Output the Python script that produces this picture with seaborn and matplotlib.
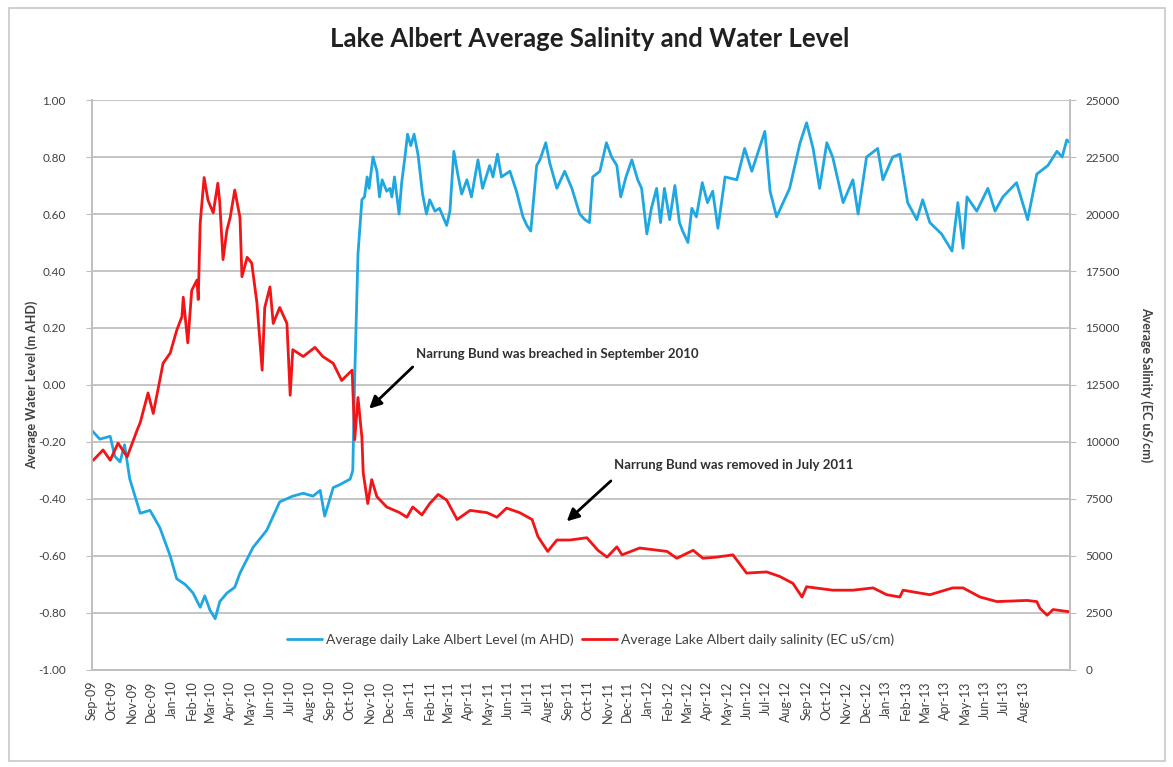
"""
Lake Albert average salinity and water level, Sep-09 .. Aug-13
dual-axis line chart (seaborn lineplot + twinx)
"""

import matplotlib.dates as mdates
import matplotlib.pyplot as plt
import pandas as pd
import seaborn as sns
from matplotlib.patches import Rectangle

START = pd.Timestamp("2009-09-01")

# water level (m AHD); days counted from START
level_days = [
    0, 12, 28, 35, 43, 50, 58, 74, 89, 104, 120, 130, 143, 155, 166, 173,
    181, 189, 196, 207, 219, 227, 247, 268, 288, 308, 324, 339, 350, 357,
    370, 380, 396, 400, 403,
    408, 414, 418, 422, 425, 431, 437, 441, 445, 452, 457, 460, 464, 471,
    475, 480, 484, 489, 494, 500, 507, 513, 518, 526, 533, 544, 549, 555,
    561, 567, 575, 582, 592, 599, 610, 615, 622, 628, 641, 651, 661, 667,
    673, 682, 687, 696, 702, 713, 725, 736, 748, 756, 763, 768, 779, 789,
    797, 805, 811, 819, 828, 837, 843, 851, 858, 866, 872, 878, 886, 894,
    901, 906, 914, 920, 927, 936, 944, 952,
    960, 971, 989, 1001, 1012, 1032, 1040, 1050, 1070, 1086, 1096, 1106,
    1116, 1127, 1136, 1152, 1167, 1175, 1188, 1205, 1213, 1228, 1239, 1251,
    1265, 1274, 1285, 1303, 1319, 1328, 1336, 1342, 1357, 1374, 1385, 1397,
    1418, 1435, 1449, 1466, 1480, 1488, 1495, 1500,
]
level_m = [
    -0.16, -0.19, -0.18, -0.25, -0.27, -0.21, -0.33, -0.45, -0.44, -0.50,
    -0.60, -0.68, -0.70, -0.73, -0.78, -0.74, -0.79, -0.82, -0.76, -0.73,
    -0.71, -0.66, -0.57, -0.51, -0.41, -0.39, -0.38, -0.39, -0.37, -0.46,
    -0.36, -0.35, -0.33, -0.30, 0.03,
    0.46, 0.65, 0.66, 0.73, 0.69, 0.80, 0.75, 0.66, 0.72, 0.68, 0.69, 0.66,
    0.73, 0.60, 0.71, 0.80, 0.88, 0.84, 0.88, 0.81, 0.67, 0.60, 0.65, 0.61,
    0.62, 0.56, 0.61, 0.82, 0.74, 0.67, 0.72, 0.66, 0.79, 0.69, 0.77, 0.73,
    0.81, 0.73, 0.75, 0.68, 0.59, 0.56, 0.54, 0.77, 0.79, 0.85, 0.78, 0.69,
    0.75, 0.69, 0.60, 0.58, 0.57, 0.73, 0.75, 0.85, 0.80, 0.77, 0.66, 0.73,
    0.79, 0.72, 0.69, 0.53, 0.62, 0.69, 0.57, 0.69, 0.58, 0.70, 0.57, 0.54,
    0.50, 0.62, 0.59, 0.71, 0.64, 0.68,
    0.55, 0.73, 0.72, 0.83, 0.75, 0.89, 0.68, 0.59, 0.69, 0.85, 0.92, 0.83,
    0.69, 0.85, 0.80, 0.64, 0.72, 0.60, 0.80, 0.83, 0.72, 0.80, 0.81, 0.64,
    0.58, 0.65, 0.57, 0.53, 0.47, 0.64, 0.48, 0.66, 0.61, 0.69, 0.61, 0.66,
    0.71, 0.58, 0.74, 0.77, 0.82, 0.80, 0.86, 0.85,
]

# salinity (EC uS/cm)
salinity_days = [
    2, 17, 28, 40, 54, 69, 74, 86, 94, 104, 109, 120, 130, 138, 140, 147,
    153, 161, 163, 166, 172, 178, 186, 193, 196, 201, 207, 212, 219, 227,
    230, 238, 245, 253, 261, 265, 273, 278, 288, 299, 304, 308, 324, 342,
    354, 370, 383, 399, 400, 403, 408, 414, 416, 423, 429, 437, 452, 472,
    483, 492, 506, 518, 531, 544, 560, 580, 606, 621, 636, 656, 675, 684,
    699, 713, 733, 759, 776, 790, 805, 813, 840, 882, 897, 922, 937, 958,
    983, 1004, 1035, 1055, 1075, 1089, 1096, 1136, 1167, 1198, 1219, 1239,
    1244, 1285, 1320, 1336, 1362, 1388, 1434, 1449, 1454, 1465, 1474, 1500,
]
salinity_ec = [
    9200, 9650, 9200, 9950, 9350, 10500, 10850, 12150, 11250, 12700, 13450,
    13900, 14900, 15500, 16350, 14350, 16650, 17100, 16250, 19600, 21600,
    20600, 20050, 21350, 20500, 18000, 19300, 19850, 21050, 19850, 17250,
    18100, 17850, 16100, 13150, 15900, 16800, 15200, 15900, 15200, 12050,
    14050, 13750, 14150, 13750, 13450, 12700, 13150, 12400, 10100, 11950,
    10200, 8650, 7300, 8350, 7600, 7150, 6900, 6700, 7150, 6800, 7300, 7700,
    7450, 6600, 7000, 6900, 6700, 7100, 6900, 6600, 5850, 5200, 5700, 5700,
    5800, 5250, 4950, 5400, 5050, 5350, 5200, 4900, 5250, 4900, 4950, 5050,
    4250, 4300, 4100, 3800, 3200, 3650, 3500, 3500, 3600, 3300, 3200, 3500,
    3300, 3600, 3600, 3200, 3000, 3050, 3000, 2700, 2400, 2650, 2550,
]

month_ticks = pd.date_range("2009-09-01", "2013-08-01", freq="MS")

BLUE = "#1FA7E1"
RED = "#F21416"
GRID = "#BFBFBF"
TEXT = "#404040"


def main() -> None:
    sns.set_style("white")
    plt.rcParams["font.family"] = ["Lato", "DejaVu Sans"]

    level_df = pd.DataFrame({
        "date": START + pd.to_timedelta(level_days, unit="D"),
        "level": level_m,
    })
    sal_df = pd.DataFrame({
        "date": START + pd.to_timedelta(salinity_days, unit="D"),
        "salinity": salinity_ec,
    })

    fig = plt.figure(figsize=(11.73, 7.67), dpi=100)
    fig.patches.append(Rectangle((0.008, 0.008), 0.985, 0.982, transform=fig.transFigure,
                                 fill=False, edgecolor="#C8C8C8", linewidth=1.2))
    ax = fig.add_axes([0.0784, 0.1265, 0.8338, 0.7431])
    ax2 = ax.twinx()

    sns.lineplot(data=level_df, x="date", y="level", ax=ax, color=BLUE, linewidth=2,
                 label="Average daily Lake Albert Level (m AHD)", legend=False)
    sns.lineplot(data=sal_df, x="date", y="salinity", ax=ax2, color=RED, linewidth=2,
                 label="Average Lake Albert daily salinity (EC uS/cm)", legend=False)

    ax.set_ylim(-1.0, 1.0)
    ax.set_yticks([i / 5 for i in range(-5, 6)])
    ax.yaxis.set_major_formatter(plt.FuncFormatter(lambda v, _: f"{v:.2f}"))
    ax2.set_ylim(0, 25000)
    ax2.set_yticks(range(0, 25001, 2500))

    ax.set_xlim(START, START + pd.Timedelta(days=1500))
    ax.set_xticks(month_ticks)
    ax.xaxis.set_major_formatter(mdates.DateFormatter("%b-%y"))
    ax.tick_params(axis="x", rotation=90, labelsize=9, colors=TEXT, length=4,
                   color=GRID)
    ax.tick_params(axis="y", labelsize=8.5, colors=TEXT, length=4, color=GRID, pad=15)
    ax2.tick_params(axis="y", labelsize=8.5, colors=TEXT, length=4, color=GRID, pad=7)

    ax.grid(axis="y", color=GRID, linewidth=1.3)
    ax.set_axisbelow(True)
    for a in (ax, ax2):
        a.spines["top"].set_visible(False)
        for side in ("left", "right", "bottom"):
            a.spines[side].set_color(GRID)
            a.spines[side].set_linewidth(1.2)

    ax.set_xlabel("")
    ax.set_ylabel("Average Water Level (m AHD)", fontsize=9, fontweight="bold",
                  color=TEXT)
    ax.yaxis.set_label_coords(-0.055, 0.5)
    ax2.set_ylabel("Average Salinity (EC uS/cm)", fontsize=9, fontweight="bold",
                   color=TEXT, rotation=270, labelpad=24)

    fig.suptitle("Lake Albert Average Salinity and Water Level", x=0.503, y=0.965,
                 fontsize=18.5, fontweight="bold", color="#202020")

    # annotations
    d = lambda n: START + pd.Timedelta(days=n)
    ax.annotate("", xy=(d(422), -0.09), xytext=(d(495), 0.07),
                arrowprops=dict(arrowstyle="-|>", color="black", lw=2,
                                mutation_scale=18))
    ax.text(d(497), 0.11, "Narrung Bund was breached in September 2010",
            fontsize=9.5, fontweight="bold", color="#303030", va="center")
    ax.annotate("", xy=(d(725), -0.485), xytext=(d(799), -0.33),
                arrowprops=dict(arrowstyle="-|>", color="black", lw=2,
                                mutation_scale=18))
    ax.text(d(800), -0.28, "Narrung Bund was removed in July 2011",
            fontsize=9.5, fontweight="bold", color="#303030", va="center")

    h1, l1 = ax.get_legend_handles_labels()
    h2, l2 = ax2.get_legend_handles_labels()
    ax2.legend(h1 + h2, l1 + l2, loc="center", bbox_to_anchor=(0.51, 0.053), ncol=2,
               frameon=False, fontsize=10, labelcolor=TEXT, handlelength=2.5,
               handletextpad=0.3, columnspacing=0.6)

    fig.savefig("out.png", dpi=100)
    plt.close(fig)


if __name__ == "__main__":
    main()
